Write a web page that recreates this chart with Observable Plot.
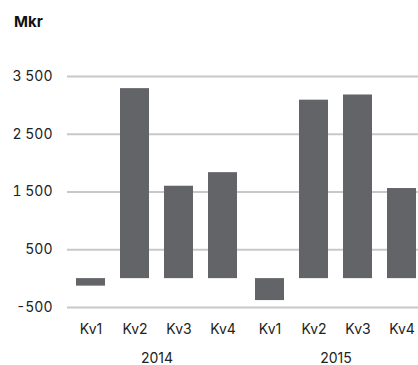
<!DOCTYPE html>
<html>
<head>
<meta charset="utf-8">
<script src="https://cdn.jsdelivr.net/npm/d3@7"></script>
<script src="https://cdn.jsdelivr.net/npm/@observablehq/plot@0.6"></script>
<style>
  html, body { margin: 0; padding: 0; background: #fff; overflow: hidden; width: 418px; height: 365px; }
  #title { font-family: Inter, "Noto Sans", sans-serif; font-weight: 700; font-size: 15px; color: #111; height: 40px; box-sizing: border-box; padding: 14px 0 0 14px; line-height: 15px; }
  #chart svg { max-width: none !important; display: block; }
</style>
</head>
<body>
<div id="title">Mkr</div>
<div id="chart"></div>
<script>
const years = [2014, 2014, 2014, 2014, 2015, 2015, 2015, 2015];
const quarters = ["Kv1", "Kv2", "Kv3", "Kv4", "Kv1", "Kv2", "Kv3", "Kv4"];
const values = [-130, 3290, 1600, 1835, -380, 3090, 3180, 1560];
const yTicks = [-500, 500, 1500, 2500, 3500];

const data = values.map((v, i) => ({year: years[i], quarter: quarters[i], value: v}));
const fmt = d => (d < 0 ? "-" : "") + Math.abs(d).toString().replace(/\B(?=(\d{3})+(?!\d))/g, " ");

const chart = Plot.plot({
  width: 425,
  height: 325,
  marginLeft: 67,
  marginRight: 0,
  marginTop: 36,
  marginBottom: 58,
  style: {fontFamily: "Inter, 'Noto Sans', sans-serif", fontSize: "14px", color: "#222", background: "#fff"},
  fx: {domain: [2014, 2015], padding: 0},
  x: {domain: ["Kv1", "Kv2", "Kv3", "Kv4"], paddingInner: 0.33, paddingOuter: 0.165},
  y: {domain: [-500, 3500]},
  marks: [
    Plot.ruleY(yTicks, {stroke: "#c8c8c8", strokeWidth: 2}),
    Plot.barY(data, {fx: "year", x: "quarter", y: "value", fill: "#636468"}),
    Plot.axisY(yTicks, {tickSize: 0, tickPadding: 15, tickFormat: fmt, label: null, fontSize: 14}),
    Plot.axisX({tickSize: 0, tickPadding: 17, label: null, fontSize: 14}),
    Plot.axisFx({anchor: "bottom", tickSize: 0, tickPadding: 46, label: null, tickFormat: d => String(d), fontSize: 14})
  ]
});
document.getElementById("chart").appendChild(chart);
</script>
</body>
</html>
